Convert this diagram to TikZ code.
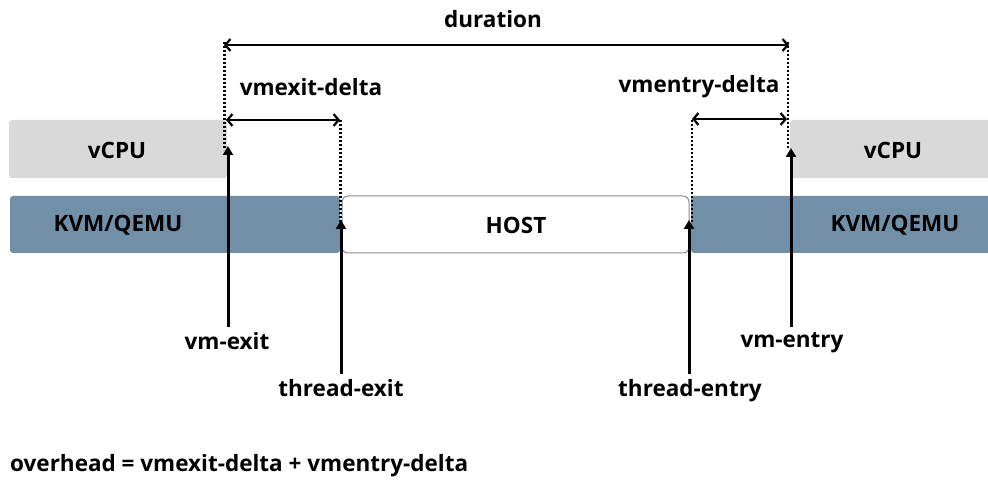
\documentclass[tikz,border=0pt]{standalone}
\usepackage{fontspec}
\setmainfont{Open Sans}
\usetikzlibrary{arrows.meta}
\definecolor{vcpugray}{HTML}{D9D9D9}
\definecolor{kvmblue}{HTML}{7190A8}
\definecolor{hostedge}{HTML}{8A8A8A}
\begin{document}
\begin{tikzpicture}[x=1pt,y=-1pt,
  lbl/.style={font=\fontsize{22.5}{26}\selectfont\bfseries, text=black, inner sep=0pt},
  evlbl/.style={lbl, anchor=north, inner ysep=5pt},
  vcpubox/.style={fill=vcpugray, rounded corners=3pt},
  kvmbox/.style={fill=kvmblue, rounded corners=3pt},
  hostbox/.style={draw=hostedge, line width=1pt, fill=white, rounded corners=6pt},
  event/.style={line width=3pt, -{Triangle[length=9pt,width=10pt]}},
  span/.style={line width=2.6pt, {Straight Barb[length=5pt,width=12pt,line width=2.2pt]}-{Straight Barb[length=5pt,width=12pt,line width=2.2pt]}},
  marker/.style={line width=2.5pt, dash pattern=on 2pt off 2pt},
]
\useasboundingbox (0,0) rectangle (988,481);

% execution lanes
\fill[vcpubox] (9,120) rectangle (227,178);
\fill[vcpubox] (790,120) rectangle (994,178);
\fill[kvmbox] (10,196) rectangle (340,253);
\fill[kvmbox] (691,196) rectangle (994,253);
\draw[hostbox] (342,196) rectangle (689,253);

\node[lbl] (vcpuL) at (117,150) {vCPU};
\node[lbl] (vcpuR) at (893,150) {vCPU};
\node[lbl] (kvmL) at (118,225) {KVM/QEMU};
\node[lbl] (kvmR) at (895,225) {KVM/QEMU};
\node[lbl] (host) at (516,225) {HOST};

% event labels
\node[evlbl] (vmexit) at (227,327) {vm-exit};
\node[evlbl] (thexit) at (341,374) {thread-exit};
\node[evlbl] (thentry) at (690,374) {thread-entry};
\node[evlbl] (vmentry) at (792,327) {vm-entry};

% event arrow tips
\coordinate (exitTip) at (228,146);
\coordinate (thexitTip) at (341,220);
\coordinate (thentryTip) at (689,220);
\coordinate (entryTip) at (791,148);

\draw[event] (vmexit.north -| exitTip) -- (exitTip);
\draw[event] (thexit.north -| thexitTip) -- (thexitTip);
\draw[event] (thentry.north -| thentryTip) -- (thentryTip);
\draw[event] (vmentry.north -| entryTip) -- (entryTip);

% dotted markers
\draw[marker] (224.5,42) -- (224.5,150);
\draw[marker] (340.5,120) -- (340.5,222);
\draw[marker] (692,120) -- (692,222);
\draw[marker] (788,42) -- (788,150);

% spans
\coordinate (durL) at (224,45);
\coordinate (durR) at (789,45);
\coordinate (exL) at (226,120);
\coordinate (exR) at (340,120);
\coordinate (enL) at (692,119);
\coordinate (enR) at (787,119);

\draw[span] (durL) -- (durR);
\draw[span] (exL) -- (exR);
\draw[span] (enL) -- (enR);

\node[lbl] (duration) at (493,19) {duration};
\node[lbl] (exdelta) at (311,87) {vmexit-delta};
\node[lbl] (endelta) at (699,87) {vmentry-delta};

\node[lbl, anchor=west] (overhead) at (10,466) {overhead = vmexit-delta + vmentry-delta};
\end{tikzpicture}
\end{document}
